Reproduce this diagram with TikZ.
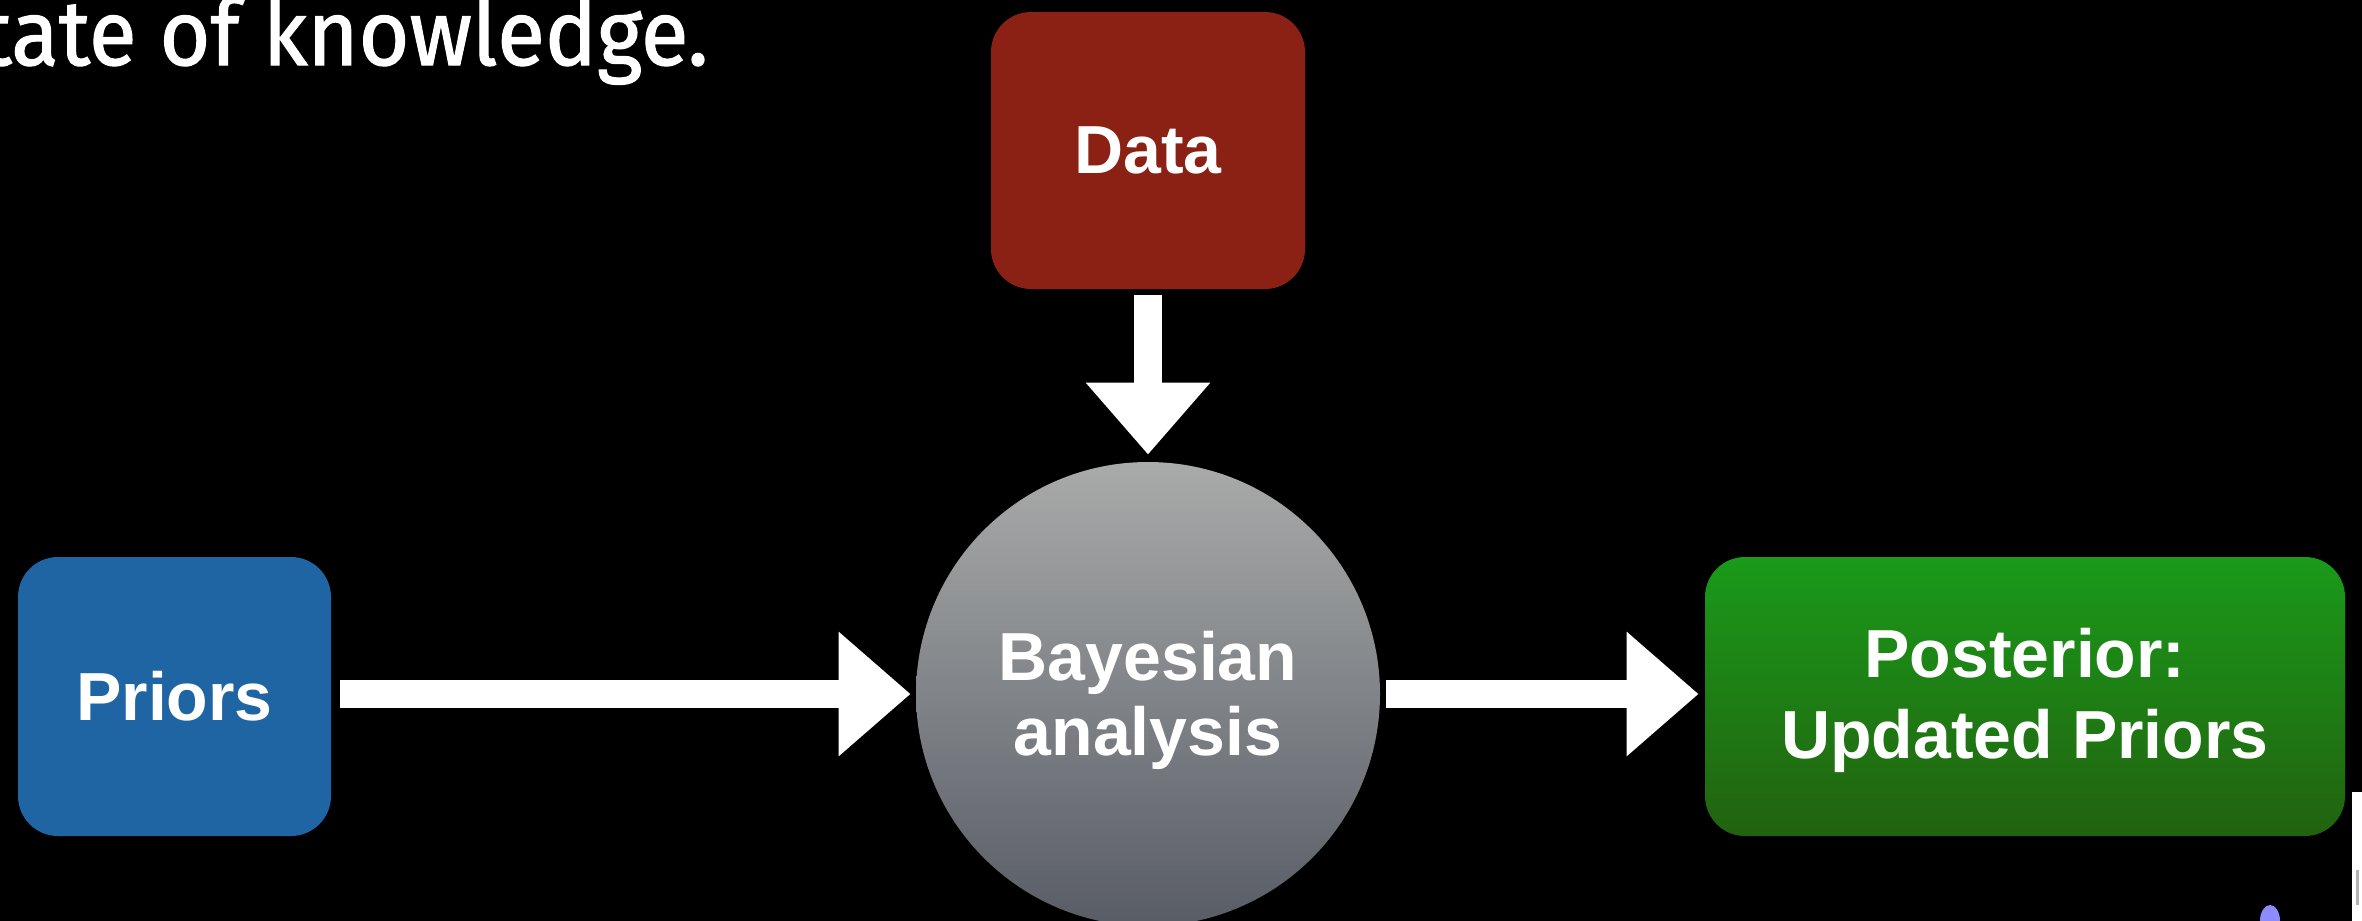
\documentclass[tikz,border=0pt]{standalone}
\usepackage{fontspec}
\usepackage{graphicx}
\setmainfont{Liberation Sans}
\newfontfamily\titlefont[FakeBold=1.3]{Fira Sans}
\usetikzlibrary{arrows.meta}
\definecolor{priorblue}{HTML}{1F65A3}
\definecolor{datared}{HTML}{8B2114}
\definecolor{posttop}{HTML}{1A9A1A}
\definecolor{postbot}{HTML}{22620F}
\definecolor{bayestop}{HTML}{A9ABAA}
\definecolor{bayesbot}{HTML}{585C65}
\tikzset{
  boxnode/.style={rectangle, rounded corners=20pt, inner sep=0pt, text=white,
    font=\bfseries\fontsize{34pt}{40.5pt}\selectfont, align=center},
  fatarrow/.style={draw=white, line width=14pt,
    -{Triangle[width=60pt,length=36pt]}},
}
\begin{document}
\begin{tikzpicture}[x=0.5pt,y=-0.5pt]
\useasboundingbox (0,0) rectangle (2362,921);
\fill[black] (0,0) rectangle (2362,921);
\clip (0,0) rectangle (2362,921);

\node[anchor=base west, inner sep=0pt, text=white] (title) at (-20,65)
  {\resizebox{364pt}{\height}{\titlefont\fontsize{46pt}{52pt}\selectfont tate of knowledge.}};

\node[boxnode, fill=priorblue, minimum width=156.5pt, minimum height=139.5pt] (priors) at (174.5,696.5) {Priors};
\node[boxnode, fill=datared, minimum width=157pt, minimum height=138.5pt] (data) at (1148,150.5) {Data};
\node[boxnode, top color=posttop, bottom color=postbot, minimum width=320pt, minimum height=139.5pt] (post) at (2025,696.5) {};
\node[text=white, align=center, inner sep=0pt, font=\bfseries\fontsize{34pt}{40.5pt}\selectfont] (postlabel) at ([yshift=-2pt]post.center) {Posterior:\\Updated Priors};
\node[circle, inner sep=0pt, minimum size=232pt, top color=bayestop, bottom color=bayesbot] (bayes) at (1148,694) {};
\node[text=white, align=center, inner sep=0pt, font=\bfseries\fontsize{34pt}{37.5pt}\selectfont] (bayeslabel) at ([yshift=-3pt]bayes.center) {Bayesian\\analysis};

\draw[fatarrow, shorten <=4.5pt, shorten >=2.5pt] (priors.east |- bayes.center) -- (bayes.west);
\draw[fatarrow, shorten <=3pt, shorten >=3pt] (bayes.east) -- (post.west |- bayes.center);
\draw[fatarrow, shorten <=3pt, shorten >=3.5pt] (data.south) -- (bayes.north);

% slide artefacts at the lower right
\fill[white] (2352,792) rectangle (2362,921);
\fill[gray!60] (2356,870) rectangle (2359,905);
\fill[blue!45!white] (2270,921) ellipse [x radius=10, y radius=16];
\end{tikzpicture}
\end{document}
